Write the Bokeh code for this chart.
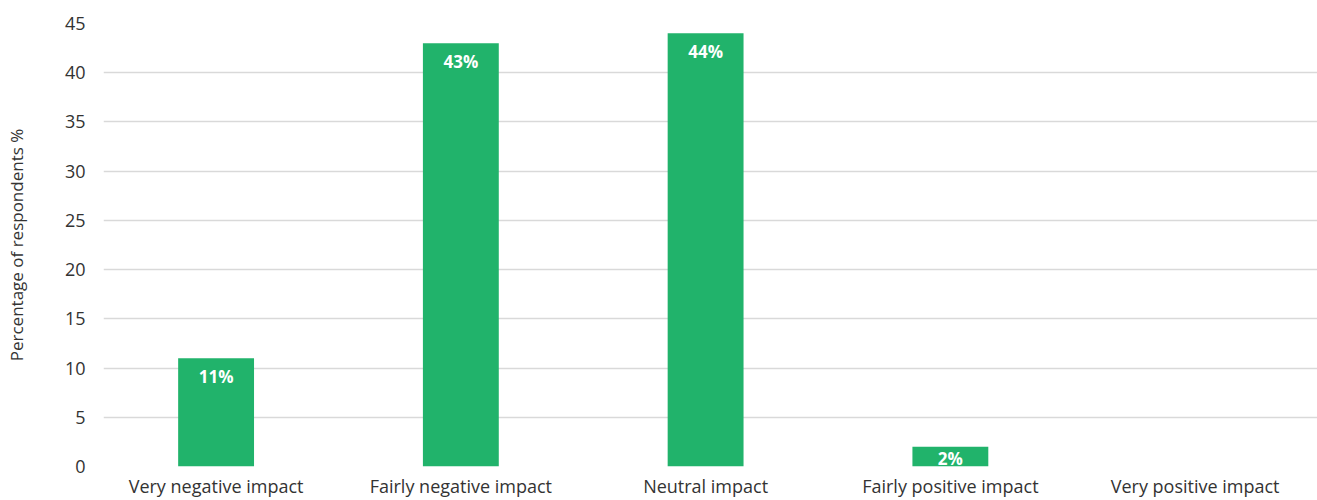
from bokeh.plotting import figure
from bokeh.models import Range1d, FixedTicker, ColumnDataSource
from bokeh.core.properties import value
from bokeh.embed import file_html
from bokeh.resources import INLINE

# Survey responses: share of respondents per impact category
categories = ["Very negative impact", "Fairly negative impact", "Neutral impact",
              "Fairly positive impact", "Very positive impact"]
shares = [11, 43, 44, 2, 0]
y_ticks = [0, 5, 10, 15, 20, 25, 30, 35, 40, 45]

FONT = "Open Sans"
TEXT_COLOR = "#333333"
BAR_COLOR = "#21B36B"

positions = [i + 0.5 for i in range(len(categories))]
labels = [f"{v}%" if v > 0 else "" for v in shares]
# short bars get their label pushed up to the bar top so it stays inside
label_offsets = [7 if v > 5 else 0 for v in shares]
src = ColumnDataSource(dict(x=positions, y=shares, label=labels, off=label_offsets))

p = figure(width=1317, height=500, output_backend="svg", toolbar_location=None,
           x_range=Range1d(0.04, 5.0), y_range=Range1d(0, 45),
           min_border_left=103, min_border_right=0, min_border_top=23, min_border_bottom=33)
p.outline_line_color = None
p.background_fill_color = "white"
p.border_fill_color = "white"

p.vbar(x="x", top="y", width=0.31, source=src, fill_color=BAR_COLOR, line_color=None)
p.text(x="x", y="y", text="label", source=src, text_align="center", text_baseline="top",
       y_offset="off", text_color="white", text_font=value(FONT), text_font_style="bold",
       text_font_size="17px")

# x axis: category names under each bar
p.xaxis.ticker = FixedTicker(ticks=positions)
p.xaxis.major_label_overrides = {pos: name for pos, name in zip(positions, categories)}
p.xaxis.axis_line_color = None
p.xaxis.major_tick_line_color = None
p.xaxis.minor_tick_line_color = None
p.xaxis.major_tick_out = 0
p.xaxis.major_tick_in = 0
p.xaxis.major_label_standoff = 7
p.xaxis.major_label_text_font = FONT
p.xaxis.major_label_text_font_size = "18px"
p.xaxis.major_label_text_color = TEXT_COLOR
p.xgrid.grid_line_color = None

# y axis: percentage scale
p.yaxis.ticker = FixedTicker(ticks=y_ticks)
p.yaxis.axis_line_color = None
p.yaxis.major_tick_line_color = None
p.yaxis.minor_tick_line_color = None
p.yaxis.major_tick_out = 0
p.yaxis.major_label_standoff = 18
p.yaxis.major_label_text_font = FONT
p.yaxis.major_label_text_font_size = "18px"
p.yaxis.major_label_text_color = TEXT_COLOR
p.yaxis.axis_label = "Percentage of respondents %"
p.yaxis.axis_label_text_font = FONT
p.yaxis.axis_label_text_font_style = "normal"
p.yaxis.axis_label_text_font_size = "17px"
p.yaxis.axis_label_text_color = TEXT_COLOR
p.yaxis.axis_label_standoff = 34
p.ygrid.ticker = FixedTicker(ticks=y_ticks)
p.ygrid.grid_line_color = "#d9d9d9"
p.ygrid.grid_line_width = 1.5

with open("out.html", "w") as f:
    f.write(file_html(p, INLINE))
